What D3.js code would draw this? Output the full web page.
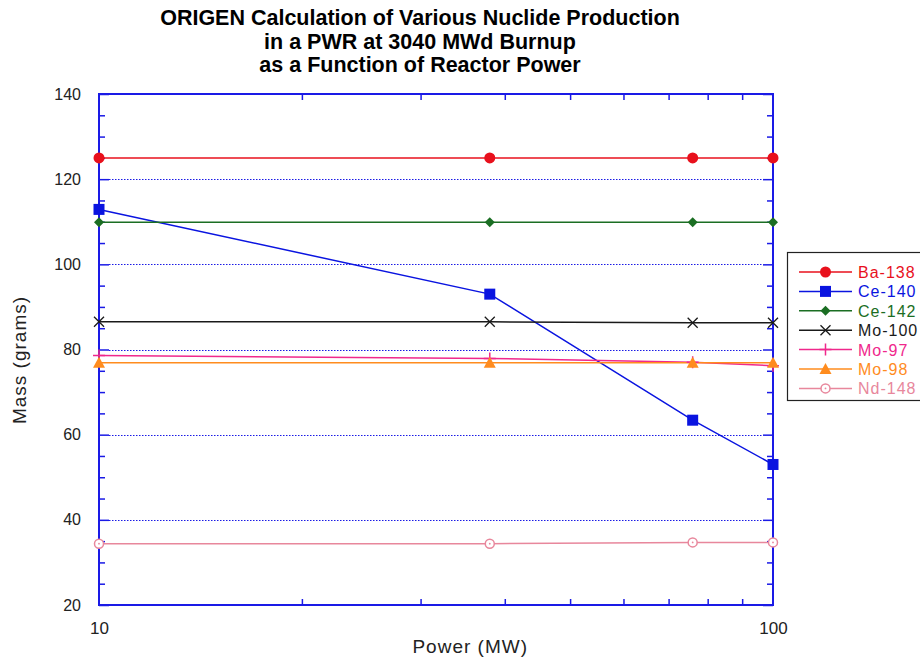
<!DOCTYPE html>
<html>
<head>
<meta charset="utf-8">
<script src="https://cdn.jsdelivr.net/npm/d3@7"></script>
<style>
  html, body { margin: 0; padding: 0; background: #fff; }
  svg { display: block; }
  text { font-family: "Liberation Sans", Arial, sans-serif; }
</style>
</head>
<body>
<svg id="chart" width="920" height="660"></svg>
<script>
// Reactor power (MW) at which each ORIGEN case was run
const powers = [10, 38, 76, 100];

// Nuclide mass (grams) at each power
const ba138 = [125, 125, 125, 125];
const ce140 = [112.9, 93.0, 63.4, 53.0];
const ce142 = [109.9, 109.9, 109.9, 109.9];
const mo100 = [86.5, 86.5, 86.3, 86.3];
const mo97  = [78.6, 77.9, 77.0, 76.2];
const mo98  = [76.9, 76.9, 76.9, 76.9];
const nd148 = [34.4, 34.4, 34.7, 34.7];

const seriesNames = ["Ba-138", "Ce-140", "Ce-142", "Mo-100", "Mo-97", "Mo-98", "Nd-148"];
const seriesValues = [ba138, ce140, ce142, mo100, mo97, mo98, nd148];

// Axis ticks
const yMajor = [20, 40, 60, 80, 100, 120, 140];
const yGrid = [40, 60, 80, 100, 120];
const yMinor = [25, 30, 35, 45, 50, 55, 65, 70, 75, 85, 90, 95, 105, 110, 115, 125, 130, 135];
const xMajor = [10, 100];
const xMinor = [20, 30, 40, 50, 60, 70, 80, 90];

const titleLines = [
  "ORIGEN Calculation of Various Nuclide Production",
  "in a PWR at 3040 MWd Burnup",
  "as a Function of Reactor Power"
];

const styles = {
  "Ba-138": { color: "#e8101c", marker: "circle" },
  "Ce-140": { color: "#0a14e0", marker: "square" },
  "Ce-142": { color: "#1b6e23", marker: "diamond" },
  "Mo-100": { color: "#1a1a1a", marker: "cross" },
  "Mo-97":  { color: "#f0288c", marker: "plus" },
  "Mo-98":  { color: "#ff8c1e", marker: "triangle" },
  "Nd-148": { color: "#e8879c", marker: "ring" }
};

const axisColor = "#1a1ae6";
const plot = { left: 99, right: 773, top: 94, bottom: 605 };

const svg = d3.select("#chart");

const x = d3.scaleLog().domain([10, 100]).range([plot.left, plot.right]);
const y = d3.scaleLinear().domain([20, 140]).range([plot.bottom, plot.top]);

// Title
svg.append("g").selectAll("text").data(titleLines).join("text")
  .attr("x", 420).attr("y", (d, i) => 25 + i * 23.5)
  .attr("text-anchor", "middle")
  .attr("font-size", 21.5).attr("font-weight", "bold").attr("fill", "#000")
  .text(d => d);

// Dotted horizontal grid lines between the major tick marks
svg.append("g").selectAll("line").data(yGrid).join("line")
  .attr("x1", plot.left + 10).attr("x2", plot.right - 10)
  .attr("y1", d => Math.round(y(d)) + 0.5).attr("y2", d => Math.round(y(d)) + 0.5)
  .attr("stroke", axisColor).attr("stroke-width", 1.2)
  .attr("stroke-dasharray", "1.5,1.5");

// Axes: ticks point inward on all four sides
function styleAxis(g) {
  g.select(".domain").remove();
  g.selectAll(".tick line").attr("stroke", axisColor).attr("stroke-width", 1.5);
  g.selectAll(".tick text").attr("fill", "#222").attr("font-size", 16)
    .attr("font-family", "Liberation Sans, Arial, sans-serif");
}

svg.append("g").attr("transform", `translate(${plot.left},0)`)
  .call(d3.axisLeft(y).tickValues(yMajor).tickSizeInner(-10).tickSizeOuter(0).tickPadding(28))
  .call(styleAxis)
  .call(g => g.selectAll(".tick text").attr("x", -18));
svg.append("g").attr("transform", `translate(${plot.left},0)`)
  .call(d3.axisLeft(y).tickValues(yMinor).tickSize(-6).tickFormat(""))
  .call(styleAxis);
svg.append("g").attr("transform", `translate(${plot.right},0)`)
  .call(d3.axisRight(y).tickValues(yMajor).tickSize(-10).tickFormat(""))
  .call(styleAxis);
svg.append("g").attr("transform", `translate(${plot.right},0)`)
  .call(d3.axisRight(y).tickValues(yMinor).tickSize(-6).tickFormat(""))
  .call(styleAxis);

svg.append("g").attr("transform", `translate(0,${plot.bottom})`)
  .call(d3.axisBottom(x).tickValues(xMajor).tickSizeInner(0).tickSizeOuter(0).tickPadding(17)
    .tickFormat(d3.format("d")))
  .call(styleAxis)
  .call(g => g.selectAll(".tick text").attr("font-size", 17));
svg.append("g").attr("transform", `translate(0,${plot.bottom})`)
  .call(d3.axisBottom(x).tickValues(xMinor).tickSize(-6).tickFormat(""))
  .call(styleAxis);
svg.append("g").attr("transform", `translate(0,${plot.top})`)
  .call(d3.axisTop(x).tickValues(xMinor).tickSize(-6).tickFormat(""))
  .call(styleAxis);

// Plot frame
svg.append("rect")
  .attr("x", plot.left).attr("y", plot.top)
  .attr("width", plot.right - plot.left).attr("height", plot.bottom - plot.top)
  .attr("fill", "none").attr("stroke", axisColor).attr("stroke-width", 2);

// Axis titles
svg.append("text").attr("x", 528).attr("y", 653).attr("text-anchor", "end")
  .attr("font-size", 19).attr("letter-spacing", 1).attr("fill", "#222").text("Power (MW)");
svg.append("text").attr("transform", "translate(26,360) rotate(-90)")
  .attr("text-anchor", "middle").attr("font-size", 19).attr("letter-spacing", 1).attr("fill", "#222")
  .text("Mass (grams)");

// Marker glyphs
function drawMarker(g, type, color, cx, cy) {
  switch (type) {
    case "circle":
      g.append("circle").attr("cx", cx).attr("cy", cy).attr("r", 5.5).attr("fill", color);
      break;
    case "square":
      g.append("rect").attr("x", cx - 5.5).attr("y", cy - 5.5).attr("width", 11).attr("height", 11).attr("fill", color);
      break;
    case "diamond":
      g.append("path").attr("d", `M${cx},${cy - 5}L${cx + 5},${cy}L${cx},${cy + 5}L${cx - 5},${cy}Z`).attr("fill", color);
      break;
    case "cross":
      g.append("path").attr("d", `M${cx - 5},${cy - 5}L${cx + 5},${cy + 5}M${cx - 5},${cy + 5}L${cx + 5},${cy - 5}`)
        .attr("stroke", color).attr("stroke-width", 1.3).attr("fill", "none");
      break;
    case "plus":
      g.append("path").attr("d", `M${cx},${cy - 6}L${cx},${cy + 6}M${cx - 6},${cy}L${cx + 6},${cy}`)
        .attr("stroke", color).attr("stroke-width", 1.5).attr("fill", "none");
      break;
    case "triangle":
      g.append("path").attr("d", `M${cx},${cy - 6}L${cx + 6},${cy + 5}L${cx - 6},${cy + 5}Z`).attr("fill", color);
      break;
    case "ring":
      g.append("circle").attr("cx", cx).attr("cy", cy).attr("r", 4.5)
        .attr("fill", "#fff").attr("stroke", color).attr("stroke-width", 1.5);
      g.append("circle").attr("cx", cx).attr("cy", cy).attr("r", 0.9).attr("fill", color);
      break;
  }
}

// Series lines and markers
const line = d3.line().x(d => x(d[0])).y(d => y(d[1]));
const seriesG = svg.append("g");
seriesNames.forEach((name, i) => {
  const st = styles[name];
  const pts = powers.map((p, j) => [p, seriesValues[i][j]]);
  seriesG.append("path").datum(pts).attr("d", line)
    .attr("fill", "none").attr("stroke", st.color).attr("stroke-width", 1.5);
});
seriesNames.forEach((name, i) => {
  const st = styles[name];
  const g = seriesG.append("g");
  powers.forEach((p, j) => drawMarker(g, st.marker, st.color, x(p), y(seriesValues[i][j])));
});

// Legend
const legend = svg.append("g");
legend.append("rect").attr("x", 787.5).attr("y", 252.5).attr("width", 140).attr("height", 148)
  .attr("fill", "#fff").attr("stroke", "#222").attr("stroke-width", 1.2);
seriesNames.forEach((name, i) => {
  const st = styles[name];
  const ly = 272 + i * 19.4;
  legend.append("line").attr("x1", 799).attr("x2", 852).attr("y1", ly).attr("y2", ly)
    .attr("stroke", st.color).attr("stroke-width", 1.5);
  drawMarker(legend, st.marker, st.color, 825.5, ly);
  legend.append("text").attr("x", 858).attr("y", ly + 6)
    .attr("font-size", 16).attr("letter-spacing", 1).attr("fill", st.color).text(name);
});
</script>
</body>
</html>
